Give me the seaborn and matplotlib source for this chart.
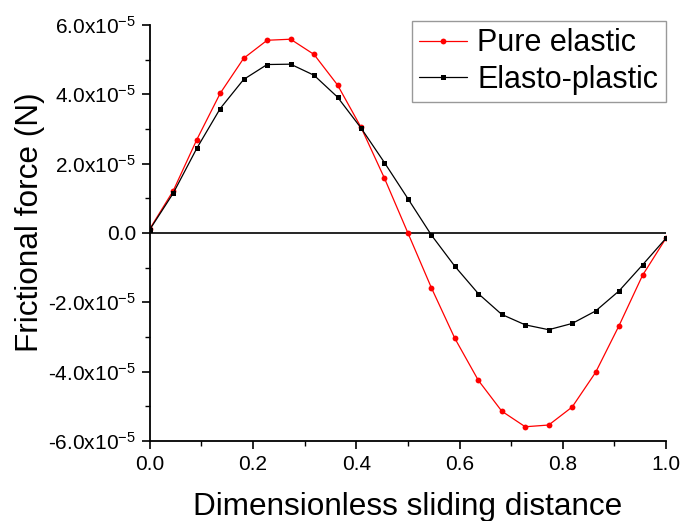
import numpy as np
import pandas as pd
import seaborn as sns
import matplotlib
matplotlib.use("Agg")
import matplotlib.pyplot as plt
from matplotlib.ticker import MultipleLocator, FuncFormatter

x_vals = [i / 22 for i in range(23)]
pure_elastic = [0.12, 1.22, 2.69, 4.03, 5.04, 5.56, 5.59, 5.15, 4.27, 3.05, 1.58, 0.0,
                -1.58, -3.04, -4.25, -5.14, -5.59, -5.54, -5.02, -4.02, -2.67, -1.22, -0.15]
elasto_plastic = [0.10, 1.15, 2.44, 3.59, 4.43, 4.86, 4.87, 4.55, 3.92, 3.03, 2.03, 0.99,
                  -0.06, -0.96, -1.75, -2.35, -2.65, -2.79, -2.61, -2.25, -1.67, -0.92, -0.15]
series_names = ["Pure elastic", "Elasto-plastic"]

sns.set_theme(style="ticks")
plt.rcParams['font.family'] = ['Liberation Sans', 'DejaVu Sans']
plt.rcParams['mathtext.fontset'] = 'custom'
plt.rcParams['mathtext.rm'] = 'Liberation Sans'
plt.rcParams['mathtext.it'] = 'Liberation Sans'
plt.rcParams['text.color'] = 'black'
plt.rcParams['axes.labelcolor'] = 'black'
plt.rcParams['xtick.color'] = 'black'
plt.rcParams['ytick.color'] = 'black'

df = pd.DataFrame({
    "x": x_vals * 2,
    "y": [v * 1e-5 for v in pure_elastic] + [v * 1e-5 for v in elasto_plastic],
    "series": [series_names[0]] * 23 + [series_names[1]] * 23,
})

fig = plt.figure(figsize=(6.81, 5.21), dpi=100)
ax = fig.add_axes([0.220, 0.1536, 0.758, 0.7984])

styles = {"Pure elastic": ("#ff0000", "o", 4.2), "Elasto-plastic": ("#000000", "s", 3.6)}
for name in series_names:
    c, m, ms = styles[name]
    sns.lineplot(data=df[df.series == name], x="x", y="y", ax=ax, color=c, marker=m,
                 markersize=ms, markeredgewidth=0, linewidth=0.9, label=name, estimator=None)

ax.axhline(0, color="black", linewidth=1.2, zorder=0)
ax.set_xlim(0, 1.0)
ax.set_ylim(-6e-5, 6e-5)
ax.xaxis.set_major_locator(MultipleLocator(0.2))
ax.xaxis.set_minor_locator(MultipleLocator(0.1))
ax.yaxis.set_major_locator(MultipleLocator(2e-5))
ax.yaxis.set_minor_locator(MultipleLocator(1e-5))
ax.xaxis.set_major_formatter(FuncFormatter(lambda v, p: f"{v:.1f}"))

def yfmt(v, p):
    m = v / 1e-5
    if abs(m) < 1e-9:
        return "0.0"
    return f"{m:.1f}x10$^{{-5}}$"

ax.yaxis.set_major_formatter(FuncFormatter(yfmt))

for s in ["top", "right"]:
    ax.spines[s].set_visible(False)
for s in ["left", "bottom"]:
    ax.spines[s].set_linewidth(1.3)
    ax.spines[s].set_color("black")
ax.tick_params(which="major", direction="out", length=6, width=1.2, labelsize=15, colors="black", pad=4)
ax.tick_params(which="minor", direction="out", length=3.5, width=1.0, colors="black")

ax.set_xlabel("Dimensionless sliding distance", fontsize=22.7, labelpad=13)
ax.set_ylabel("Frictional force (N)", fontsize=22.7)
ax.yaxis.set_label_coords(-0.2035, 0.526)

leg = ax.legend(loc="upper right", bbox_to_anchor=(1.0, 1.01), fontsize=22, frameon=True,
                fancybox=False, edgecolor="#808080", handlelength=1.55, handletextpad=0.35,
                borderpad=0.25, labelspacing=0.2, borderaxespad=0.0)
leg.get_frame().set_linewidth(1.0)

fig.savefig("out.png", dpi=100)
